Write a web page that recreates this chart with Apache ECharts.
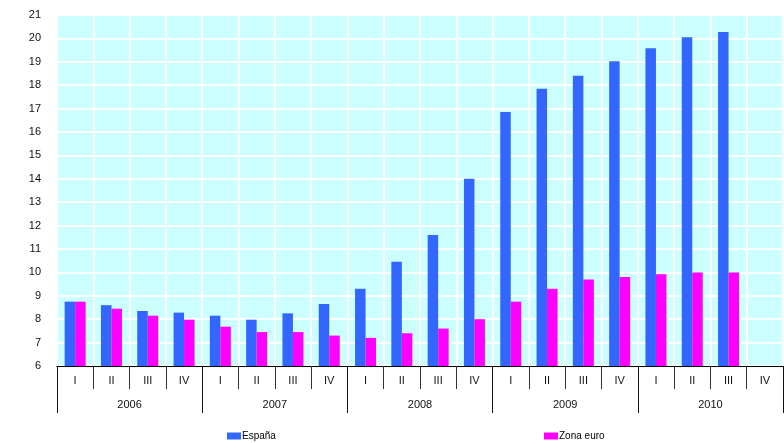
<!DOCTYPE html>
<html lang="es">
<head>
  <meta charset="UTF-8">
  <script src="https://cdn.jsdelivr.net/npm/echarts/dist/echarts.min.js"></script>
  <style>
    html, body { margin: 0; padding: 0; background: #fff; }
    #chart { width: 784px; height: 443px; }
  </style>
</head>
<body>
  <div id="chart"></div>
  <script>
    const quarters = ['I', 'II', 'III', 'IV', 'I', 'II', 'III', 'IV', 'I', 'II',
                      'III', 'IV', 'I', 'II', 'III', 'IV', 'I', 'II', 'III', 'IV'];
    const years = ['2006', '2007', '2008', '2009', '2010'];
    const espana = [8.75, 8.6, 8.35, 8.28, 8.15, 7.98, 8.25, 8.65, 9.3, 10.45,
                    11.6, 14.0, 16.85, 17.85, 18.4, 19.02, 19.58, 20.05, 20.27, null];
    const zonaEuro = [8.75, 8.45, 8.15, 7.98, 7.68, 7.45, 7.45, 7.3, 7.2, 7.4,
                      7.6, 8.0, 8.75, 9.3, 9.7, 9.8, 9.92, 10.0, 10.0, null];

    const chart = echarts.init(document.getElementById('chart'));
    const font = 'Liberation Sans, Arial, sans-serif';

    chart.setOption({
      animation: false,
      grid: {
        left: 57, right: 1, top: 15, bottom: 77,
        show: true, backgroundColor: '#ccffff', borderWidth: 0
      },
      legend: [
        {
          data: ['España'], left: 222, top: 426, icon: 'rect',
          itemWidth: 14, itemHeight: 7, itemGap: 0,
          textStyle: { fontFamily: font, fontSize: 10, color: '#000', padding: [0, 0, 0, -4] }
        },
        {
          data: ['Zona euro'], left: 539, top: 426, icon: 'rect',
          itemWidth: 14, itemHeight: 7, itemGap: 0,
          textStyle: { fontFamily: font, fontSize: 10, color: '#000', padding: [0, 0, 0, -4] }
        }
      ],
      xAxis: [
        {
          type: 'category', data: quarters, position: 'bottom',
          axisLine: { show: true, lineStyle: { color: '#000', width: 1 } },
          axisTick: { show: true, interval: 0, length: 23, lineStyle: { color: '#333', width: 1 } },
          axisLabel: { interval: 0, margin: 9, fontFamily: font, fontSize: 11, color: '#111' },
          splitLine: { show: true, interval: 0, lineStyle: { color: '#fff', width: 2 } }
        },
        {
          type: 'category', data: years, position: 'bottom',
          axisLine: { show: true, lineStyle: { color: '#000', width: 1 } },
          axisTick: { show: true, interval: 0, length: 47, lineStyle: { color: '#111', width: 1 } },
          axisLabel: { interval: 0, margin: 33, fontFamily: font, fontSize: 11, color: '#111' },
          splitLine: { show: false }
        }
      ],
      yAxis: {
        type: 'value', min: 6, max: 21, interval: 1,
        axisLine: { show: false },
        axisTick: { show: false },
        axisLabel: { margin: 16, fontFamily: font, fontSize: 11, color: '#111' },
        splitLine: { lineStyle: { color: '#fff', width: 2 } }
      },
      series: [
        {
          name: 'España', type: 'bar', data: espana, xAxisIndex: 0,
          barWidth: 10.5, barGap: '0%',
          itemStyle: { color: '#3366ff' }
        },
        {
          name: 'Zona euro', type: 'bar', data: zonaEuro, xAxisIndex: 0,
          barWidth: 10.5, barGap: '0%',
          itemStyle: { color: '#ff00ff' }
        }
      ]
    });
  </script>
</body>
</html>
